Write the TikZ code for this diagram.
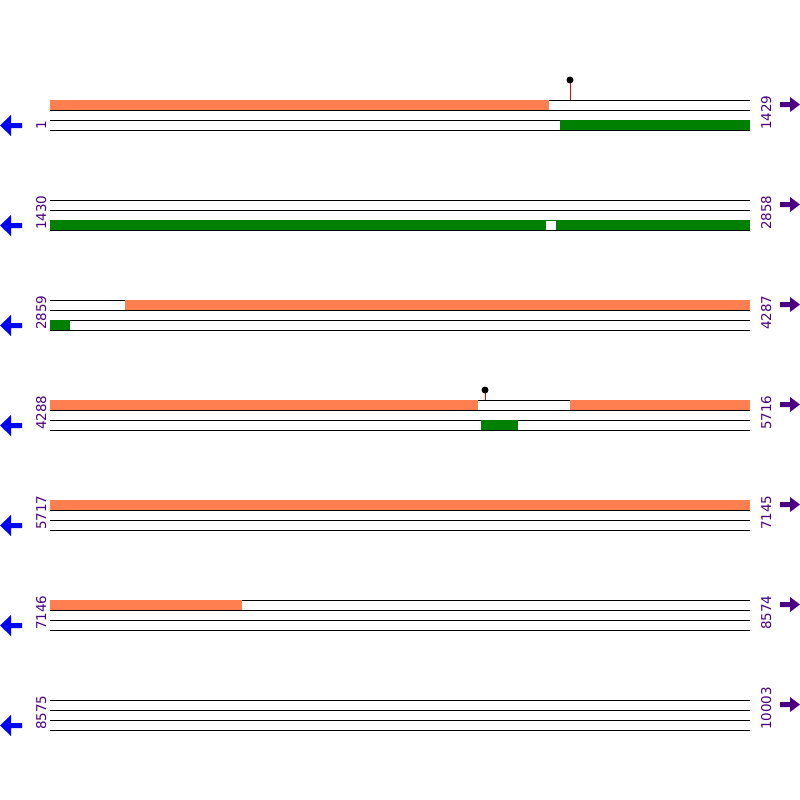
\documentclass[tikz,border=0pt]{standalone}
\usepackage{fontspec}
\setmainfont{DejaVu Sans}
\definecolor{bar}{HTML}{FF7F50}
\definecolor{grn}{HTML}{008000}
\definecolor{lbl}{HTML}{4B0082}
\tikzset{
  strand/.style={black,line width=1pt},
  topbar/.style={fill=bar},
  botbar/.style={fill=grn},
  poslbl/.style={text=lbl,font=\fontsize{13.5}{13.5}\selectfont,rotate=90,anchor=base west,inner sep=0pt},
  lolli/.style={red,line width=1pt},
  dot/.style={fill=black,circle,inner sep=0pt,minimum size=7pt},
}
\begin{document}
\begin{tikzpicture}[x=1pt,y=-1pt]
\useasboundingbox (0,0) rectangle (800,800);
% strand lines
\foreach \r in {0,...,6}{
  \pgfmathsetmacro\yy{100+100*\r}
  \foreach \d in {0,10,20,30}{
    \draw[strand] (50,\yy+\d) -- (750,\yy+\d);
  }
  % arrows
  \fill[blue] (0,\yy+25.5) -- (11,\yy+15) -- (11,\yy+23) -- (22,\yy+23) -- (22,\yy+28) -- (11,\yy+28) -- (11,\yy+36) -- cycle;
  \fill[lbl] (800,\yy+4.5) -- (790,\yy-3) -- (790,\yy+2) -- (780,\yy+2) -- (780,\yy+7) -- (790,\yy+7) -- (790,\yy+12) -- cycle;
}
% row 1
\fill[topbar] (50,100) rectangle (549,110);
\fill[botbar] (560,120) rectangle (750,130);
\draw[lolli] (570,100) -- (570,82);
\node[dot] (d1) at (570,80) {};
% row 2
\fill[botbar] (50,220) rectangle (750,230);
\fill[white] (546,220.5) rectangle (556,229.5);
% row 3
\fill[topbar] (125,300) rectangle (750,310);
\fill[botbar] (50,320) rectangle (70,330);
% row 4
\fill[topbar] (50,400) rectangle (478,410);
\fill[topbar] (570,400) rectangle (750,410);
\fill[botbar] (481,420) rectangle (518,430);
\draw[lolli] (485,400) -- (485,392);
\node[dot] (d2) at (485,390) {};
% row 5
\fill[topbar] (50,500) rectangle (750,510);
% row 6
\fill[topbar] (50,600) rectangle (242,610);
% labels
\node[poslbl] (l1) at (46,130) {1};
\node[poslbl] (r1) at (771,130) {1429};
\node[poslbl] (l2) at (46,230) {1430};
\node[poslbl] (r2) at (771,230) {2858};
\node[poslbl] (l3) at (46,330) {2859};
\node[poslbl] (r3) at (771,330) {4287};
\node[poslbl] (l4) at (46,430) {4288};
\node[poslbl] (r4) at (771,430) {5716};
\node[poslbl] (l5) at (46,530) {5717};
\node[poslbl] (r5) at (771,530) {7145};
\node[poslbl] (l6) at (46,630) {7146};
\node[poslbl] (r6) at (771,630) {8574};
\node[poslbl] (l7) at (46,730) {8575};
\node[poslbl] (r7) at (771,730) {10003};
\end{tikzpicture}
\end{document}
